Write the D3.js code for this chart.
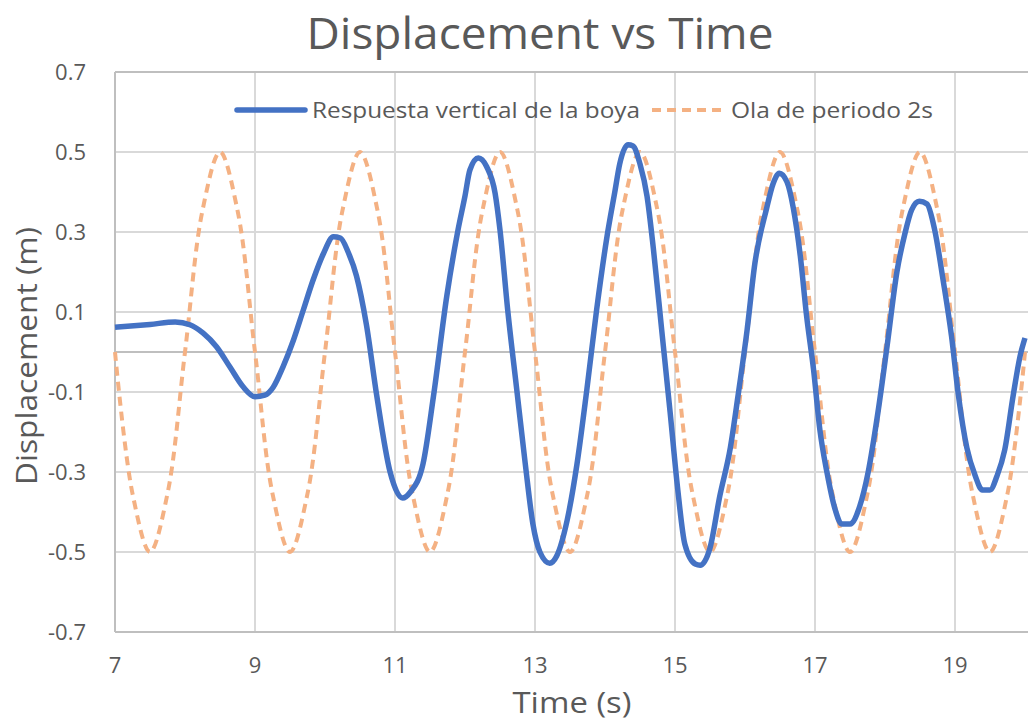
<!DOCTYPE html>
<html>
<head>
<meta charset="utf-8">
<script src="https://cdn.jsdelivr.net/npm/d3@7"></script>
<style>
  html, body { margin: 0; padding: 0; background: #fff; }
  svg text { font-family: "Open Sans", "Noto Sans", sans-serif; fill: #595959; }
</style>
</head>
<body>
<div id="chart"></div>
<script>
// buoy response: time (s) / displacement (m)
var buoyTime = [7.0, 7.5, 7.86, 8.07, 8.26, 8.45, 8.64, 8.83, 9.0, 9.14, 9.26, 9.4, 9.55, 9.69, 9.83,
  9.98, 10.12, 10.22, 10.33, 10.45, 10.59, 10.74, 10.93, 11.11, 11.22, 11.4, 11.55, 11.74, 11.9,
  12.0, 12.07, 12.19, 12.31, 12.43, 12.5, 12.61, 12.74, 12.86, 12.97, 13.07, 13.21, 13.31, 13.46,
  13.6, 13.74, 13.88, 14.03, 14.14, 14.21, 14.33, 14.4, 14.5, 14.6, 14.69, 14.81, 14.93, 15.04,
  15.14, 15.29, 15.36, 15.5, 15.64, 15.79, 15.9, 16.03, 16.14, 16.31, 16.4, 16.49, 16.6, 16.69,
  16.79, 16.88, 16.98, 17.07, 17.17, 17.29, 17.38, 17.5, 17.64, 17.76, 17.9, 18.03, 18.17, 18.29,
  18.38, 18.49, 18.6, 18.71, 18.83, 18.95, 19.05, 19.17, 19.29, 19.39, 19.5, 19.6, 19.71, 19.83,
  19.93, 20.0];
var buoyDisp = [0.062, 0.069, 0.075, 0.068, 0.047, 0.013, -0.037, -0.087, -0.112, -0.108, -0.088, -0.037, 0.03, 0.105, 0.18,
  0.247, 0.288, 0.285, 0.25, 0.19, 0.07, -0.11, -0.3, -0.365, -0.35, -0.28, -0.11, 0.14, 0.305,
  0.39, 0.455, 0.485, 0.463, 0.397, 0.305, 0.105, -0.095, -0.278, -0.43, -0.5, -0.528, -0.51, -0.42,
  -0.28, -0.095, 0.105, 0.29, 0.4, 0.47, 0.518, 0.515, 0.47, 0.39, 0.26, 0.055, -0.15, -0.345,
  -0.48, -0.53, -0.533, -0.49, -0.36, -0.24, -0.11, 0.055, 0.22, 0.36, 0.42, 0.447, 0.425, 0.36,
  0.24, 0.09, -0.045, -0.195, -0.3, -0.395, -0.43, -0.43, -0.385, -0.3, -0.15, 0.015, 0.2, 0.3,
  0.355, 0.377, 0.37, 0.305, 0.18, 0.04, -0.11, -0.24, -0.31, -0.345, -0.345, -0.31, -0.245, -0.11,
  -0.01, 0.035];

// incoming wave, period 2 s
var waveTime = [7, 7.25, 7.5, 7.75, 8, 8.25, 8.5, 8.75, 9, 9.25, 9.5, 9.75, 10, 10.25, 10.5, 10.75,
  11, 11.25, 11.5, 11.75, 12, 12.25, 12.5, 12.75, 13, 13.25, 13.5, 13.75, 14, 14.25, 14.5, 14.75,
  15, 15.25, 15.5, 15.75, 16, 16.25, 16.5, 16.75, 17, 17.25, 17.5, 17.75, 18, 18.25, 18.5, 18.75,
  19, 19.25, 19.5, 19.75, 20];
var waveDisp = [0, -0.354, -0.5, -0.354, 0, 0.354, 0.5, 0.354, 0, -0.354, -0.5, -0.354, 0, 0.354, 0.5, 0.354,
  0, -0.354, -0.5, -0.354, 0, 0.354, 0.5, 0.354, 0, -0.354, -0.5, -0.354, 0, 0.354, 0.5, 0.354,
  0, -0.354, -0.5, -0.354, 0, 0.354, 0.5, 0.354, 0, -0.354, -0.5, -0.354, 0, 0.354, 0.5, 0.354,
  0, -0.354, -0.5, -0.354, 0];

var xTicks = [7, 9, 11, 13, 15, 17, 19];
var yTicks = [0.7, 0.5, 0.3, 0.1, -0.1, -0.3, -0.5, -0.7];
var seriesNames = ["Respuesta vertical de la boya", "Ola de periodo 2s"];

var width = 1028, height = 722;
var plotLeft = 115, plotRight = 1025, plotTop = 72, plotBottom = 632;

var svg = d3.select("#chart").append("svg")
  .attr("width", width)
  .attr("height", height);

var x = d3.scaleLinear().domain([7, 20]).range([plotLeft, plotRight]);
var y = d3.scaleLinear().domain([-0.7, 0.7]).range([plotBottom, plotTop]);

// grid
svg.append("g").selectAll("line")
  .data(xTicks.slice(1))
  .enter().append("line")
  .attr("x1", d => x(d)).attr("x2", d => x(d))
  .attr("y1", plotTop).attr("y2", plotBottom)
  .attr("stroke", "#d9d9d9").attr("stroke-width", 2);

svg.append("g").selectAll("line")
  .data(yTicks)
  .enter().append("line")
  .attr("x1", plotLeft).attr("x2", width)
  .attr("y1", d => y(d)).attr("y2", d => y(d))
  .attr("stroke", d => (Math.abs(d) == 0.7) ? "#bfbfbf" : "#d9d9d9")
  .attr("stroke-width", 2);

// zero line and left axis
svg.append("line")
  .attr("x1", plotLeft).attr("x2", width)
  .attr("y1", y(0)).attr("y2", y(0))
  .attr("stroke", "#bfbfbf").attr("stroke-width", 2);
svg.append("line")
  .attr("x1", plotLeft).attr("x2", plotLeft)
  .attr("y1", plotTop).attr("y2", plotBottom)
  .attr("stroke", "#bfbfbf").attr("stroke-width", 2);

// tick labels
svg.append("g").selectAll("text")
  .data(yTicks)
  .enter().append("text")
  .attr("x", 86)
  .attr("y", d => y(d))
  .attr("dy", "0.35em")
  .attr("text-anchor", "end")
  .style("font-size", "22px")
  .text(d => d3.format(".1f")(d).replace("−", "-"));

svg.append("g").selectAll("text")
  .data(xTicks)
  .enter().append("text")
  .attr("x", d => x(d))
  .attr("y", 665)
  .attr("dy", "0.35em")
  .attr("text-anchor", "middle")
  .style("font-size", "22px")
  .text(d => d);

// series
var waveLine = d3.line()
  .x(d => x(d[0]))
  .y(d => y(d[1]))
  .curve(d3.curveCatmullRom.alpha(0.5));

var buoyLine = d3.line()
  .x(d => x(d[0]))
  .y(d => y(d[1]))
  .curve(d3.curveMonotoneX);

var wave = waveTime.map((t, i) => [t, waveDisp[i]]);
var buoy = buoyTime.map((t, i) => [t, buoyDisp[i]]);

svg.append("path")
  .datum(wave)
  .attr("d", waveLine)
  .attr("fill", "none")
  .attr("stroke", "#f4b183")
  .attr("stroke-width", 4)
  .attr("stroke-dasharray", "9,6");

svg.append("path")
  .datum(buoy)
  .attr("d", buoyLine)
  .attr("fill", "none")
  .attr("stroke", "#4472c4")
  .attr("stroke-width", 5.5)
  .attr("stroke-linejoin", "round");

// legend
var legend = svg.append("g");
legend.append("line")
  .attr("x1", 237).attr("x2", 305).attr("y1", 110).attr("y2", 110)
  .attr("stroke", "#4472c4").attr("stroke-width", 5.5).attr("stroke-linecap", "round");
legend.append("text")
  .attr("x", 312).attr("y", 110).attr("dy", "0.35em")
  .style("font-size", "22px")
  .attr("textLength", 328).attr("lengthAdjust", "spacingAndGlyphs")
  .text(seriesNames[0]);
legend.append("line")
  .attr("x1", 652).attr("x2", 724).attr("y1", 110).attr("y2", 110)
  .attr("stroke", "#f4b183").attr("stroke-width", 4).attr("stroke-dasharray", "9,6");
legend.append("text")
  .attr("x", 731).attr("y", 110).attr("dy", "0.35em")
  .style("font-size", "22px")
  .attr("textLength", 202).attr("lengthAdjust", "spacingAndGlyphs")
  .text(seriesNames[1]);

// titles
svg.append("text")
  .attr("x", 540).attr("y", 49)
  .attr("text-anchor", "middle")
  .style("font-size", "44px")
  .attr("textLength", 467).attr("lengthAdjust", "spacingAndGlyphs")
  .text("Displacement vs Time");

svg.append("text")
  .attr("x", 572).attr("y", 713)
  .attr("text-anchor", "middle")
  .style("font-size", "29px")
  .attr("textLength", 119).attr("lengthAdjust", "spacingAndGlyphs")
  .text("Time (s)");

svg.append("text")
  .attr("transform", "translate(37,356) rotate(-90)")
  .attr("text-anchor", "middle")
  .style("font-size", "29px")
  .attr("textLength", 258).attr("lengthAdjust", "spacingAndGlyphs")
  .text("Displacement (m)");
</script>
</body>
</html>
